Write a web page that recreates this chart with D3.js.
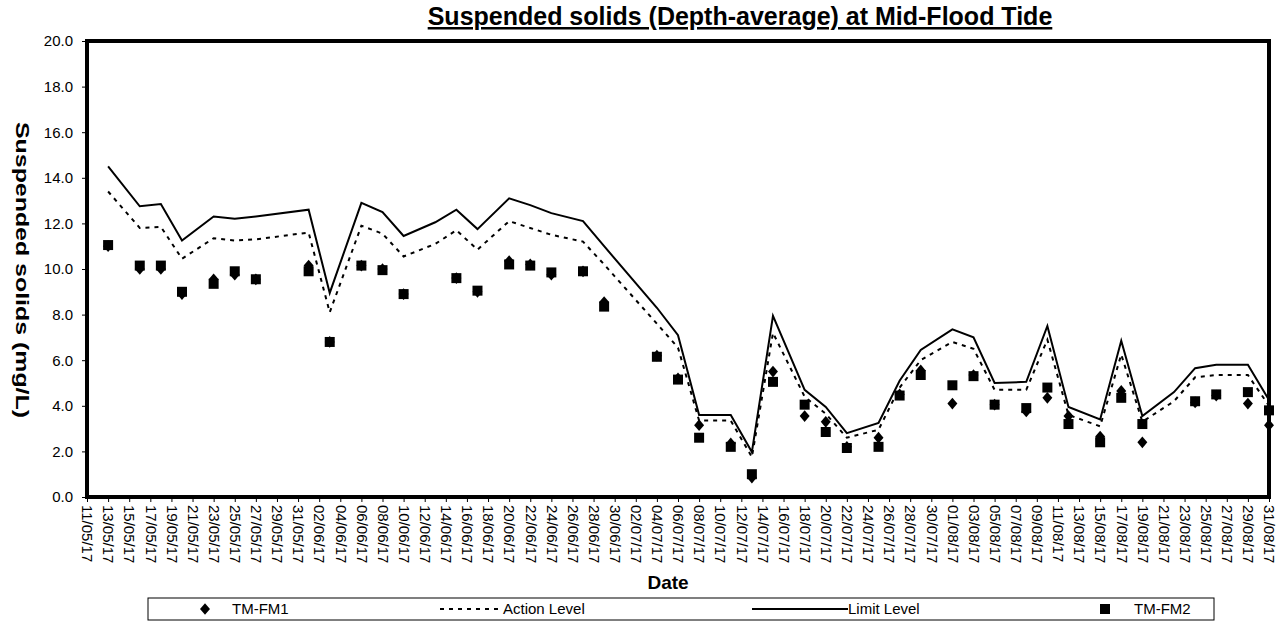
<!DOCTYPE html>
<html>
<head>
<meta charset="utf-8">
<script src="https://cdn.jsdelivr.net/npm/d3@7"></script>
<style>
  body { margin: 0; background: #fff; }
  svg { font-family: "Liberation Sans", Arial, sans-serif; }
</style>
</head>
<body>
<svg width="1285" height="632"></svg>
<script>
var width = 1285;
var height = 632;

// sampling dates (dd/mm/yy)
var dates = ["13/05/17","16/05/17","18/05/17","20/05/17","23/05/17","25/05/17","27/05/17",
  "01/06/17","03/06/17","06/06/17","08/06/17","10/06/17","13/06/17","15/06/17","17/06/17",
  "20/06/17","22/06/17","24/06/17","27/06/17","29/06/17","04/07/17","06/07/17","08/07/17",
  "11/07/17","13/07/17","15/07/17","18/07/17","20/07/17","22/07/17","25/07/17","27/07/17",
  "29/07/17","01/08/17","03/08/17","05/08/17","08/08/17","10/08/17","12/08/17","15/08/17",
  "17/08/17","19/08/17","22/08/17","24/08/17","26/08/17","29/08/17","31/08/17"];

var fm1 = [11.0,10.0,10.0,8.9,9.55,9.75,9.55,
  10.15,6.8,10.15,10.0,8.9,null,9.6,9.0,
  10.35,10.2,9.75,9.9,8.55,6.2,5.2,3.15,
  2.35,0.85,5.5,3.55,3.3,2.2,2.6,4.5,
  5.55,4.1,5.35,4.05,3.75,4.35,3.55,2.65,
  4.65,2.4,null,4.15,4.45,4.1,3.15];

var fm2 = [11.05,10.15,10.15,9.0,9.35,9.9,9.55,
  9.9,6.8,10.15,9.95,8.9,null,9.6,9.05,
  10.2,10.15,9.85,9.9,8.35,6.15,5.15,2.6,
  2.2,1.0,5.05,4.05,2.85,2.15,2.2,4.45,
  5.35,4.9,5.3,4.05,3.9,4.8,3.2,2.4,
  4.35,3.2,null,4.2,4.5,4.6,3.8];

var actionLevel = [13.4,11.8,11.85,10.45,11.35,11.25,11.3,
  11.6,8.1,11.9,11.55,10.55,11.1,11.7,10.85,
  12.1,11.8,11.5,11.2,10.2,7.6,6.55,3.35,
  3.35,1.75,7.2,4.4,3.65,2.6,2.95,4.8,
  6.0,6.8,6.5,4.7,4.7,6.9,3.6,3.1,
  6.25,3.3,4.2,5.25,5.35,5.35,4.0];

var limitLevel = [14.5,12.75,12.85,11.25,12.3,12.2,12.3,
  12.6,8.95,12.9,12.5,11.45,12.05,12.6,11.75,
  13.1,12.8,12.45,12.1,11.0,8.3,7.1,3.6,
  3.6,1.97,7.95,4.7,3.95,2.8,3.25,5.1,
  6.45,7.35,7.0,5.0,5.05,7.5,3.95,3.4,
  6.85,3.55,4.6,5.65,5.8,5.8,4.25];

var yTicks = [0,2,4,6,8,10,12,14,16,18,20];

var parseDate = d3.timeParse("%d/%m/%y");
var fmtDate = d3.timeFormat("%d/%m/%y");

var rows = dates.map(function(d, i) {
  return { date: parseDate(d), fm1: fm1[i], fm2: fm2[i], action: actionLevel[i], limit: limitLevel[i] };
});

var plotLeft = 87, plotRight = 1269, plotTop = 41, plotBottom = 497;

var xScale = d3.scaleTime()
    .domain([parseDate("11/05/17"), parseDate("31/08/17")])
    .range([plotLeft, plotRight]);

var yScale = d3.scaleLinear()
    .domain([0, 20])
    .range([plotBottom, plotTop]);

var svg = d3.select("svg");

// title
svg.append("text")
    .attr("x", 740)
    .attr("y", 25)
    .attr("text-anchor", "middle")
    .style("font-size", "25px")
    .style("font-weight", "bold")
    .style("text-decoration", "underline")
    .text("Suspended solids (Depth-average) at Mid-Flood Tide");

// y axis
var yAxis = d3.axisLeft(yScale)
    .tickValues(yTicks)
    .tickFormat(d3.format(".1f"))
    .tickSize(5)
    .tickSizeOuter(0);

var gy = svg.append("g")
    .attr("transform", "translate(" + plotLeft + ",0)")
    .call(yAxis);
gy.select(".domain").remove();
gy.selectAll("text").style("font-size", "15px").attr("fill", "#000").attr("x", -14);

// x axis, a tick every 2 days
var xTickDates = d3.timeDay.range(parseDate("11/05/17"), d3.timeDay.offset(parseDate("31/08/17"), 1), 2);

var xAxis = d3.axisBottom(xScale)
    .tickValues(xTickDates)
    .tickFormat(fmtDate)
    .tickSize(5)
    .tickSizeOuter(0);

var gx = svg.append("g")
    .attr("transform", "translate(0," + plotBottom + ")")
    .call(xAxis);
gx.select(".domain").remove();
gx.selectAll("text")
    .style("font-size", "15px")
    .attr("fill", "#000")
    .attr("transform", "rotate(90)")
    .attr("x", 8)
    .attr("y", 0)
    .attr("dy", "0.35em")
    .style("text-anchor", "start");

// axis titles
svg.append("text")
    .attr("transform", "translate(16," + 270 + ") rotate(90)")
    .attr("text-anchor", "middle")
    .attr("textLength", 296)
    .attr("lengthAdjust", "spacingAndGlyphs")
    .style("font-size", "19px")
    .style("font-weight", "bold")
    .text("Suspended solids (mg/L)");

svg.append("text")
    .attr("x", 668)
    .attr("y", 589)
    .attr("text-anchor", "middle")
    .style("font-size", "19px")
    .style("font-weight", "bold")
    .text("Date");

// lines
var lineOf = function(key) {
  return d3.line()
    .defined(function(d) { return d[key] !== null; })
    .x(function(d) { return xScale(d.date); })
    .y(function(d) { return yScale(d[key]); });
};

svg.append("path")
    .datum(rows)
    .attr("d", lineOf("limit"))
    .attr("fill", "none")
    .attr("stroke", "#000")
    .attr("stroke-width", 2);

svg.append("path")
    .datum(rows)
    .attr("d", lineOf("action"))
    .attr("fill", "none")
    .attr("stroke", "#000")
    .attr("stroke-width", 2)
    .attr("stroke-dasharray", "4,5");

// markers
var diamond = d3.symbol().type(d3.symbolDiamond).size(55);
var square = d3.symbol().type(d3.symbolSquare).size(100);

svg.selectAll(".fm2")
    .data(rows.filter(function(d) { return d.fm2 !== null; }))
    .enter()
    .append("path")
        .attr("class", "fm2")
        .attr("d", square)
        .attr("transform", function(d) { return "translate(" + xScale(d.date) + "," + yScale(d.fm2) + ")"; })
        .attr("fill", "#000");

svg.selectAll(".fm1")
    .data(rows.filter(function(d) { return d.fm1 !== null; }))
    .enter()
    .append("path")
        .attr("class", "fm1")
        .attr("d", diamond)
        .attr("transform", function(d) { return "translate(" + xScale(d.date) + "," + yScale(d.fm1) + ") scale(1.25,0.85)"; })
        .attr("fill", "#000");

// plot frame
svg.append("rect")
    .attr("x", plotLeft)
    .attr("y", plotTop)
    .attr("width", plotRight - plotLeft)
    .attr("height", plotBottom - plotTop)
    .attr("fill", "none")
    .attr("stroke", "#000")
    .attr("stroke-width", 4);

// legend
var legend = svg.append("g").style("font-family", "'Liberation Sans Narrow', 'Liberation Sans', Arial, sans-serif");
legend.append("rect")
    .attr("x", 148).attr("y", 598)
    .attr("width", 1066).attr("height", 22)
    .attr("fill", "none").attr("stroke", "#000").attr("stroke-width", 1);

var ly = 609;
legend.append("path").attr("d", diamond)
    .attr("transform", "translate(205," + ly + ") scale(1.25,0.85)");
legend.append("text").attr("x", 232).attr("y", ly).attr("dy", "0.35em")
    .style("font-size", "15px").text("TM-FM1");

legend.append("line").attr("x1", 440).attr("x2", 500).attr("y1", ly).attr("y2", ly)
    .attr("stroke", "#000").attr("stroke-width", 2).attr("stroke-dasharray", "4,5");
legend.append("text").attr("x", 503).attr("y", ly).attr("dy", "0.35em")
    .style("font-size", "15px").text("Action Level");

legend.append("line").attr("x1", 752).attr("x2", 848).attr("y1", ly).attr("y2", ly)
    .attr("stroke", "#000").attr("stroke-width", 2);
legend.append("text").attr("x", 848).attr("y", ly).attr("dy", "0.35em")
    .style("font-size", "15px").text("Limit Level");

legend.append("path").attr("d", square)
    .attr("transform", "translate(1105," + ly + ")");
legend.append("text").attr("x", 1134).attr("y", ly).attr("dy", "0.35em")
    .style("font-size", "15px").text("TM-FM2");
</script>
</body>
</html>
